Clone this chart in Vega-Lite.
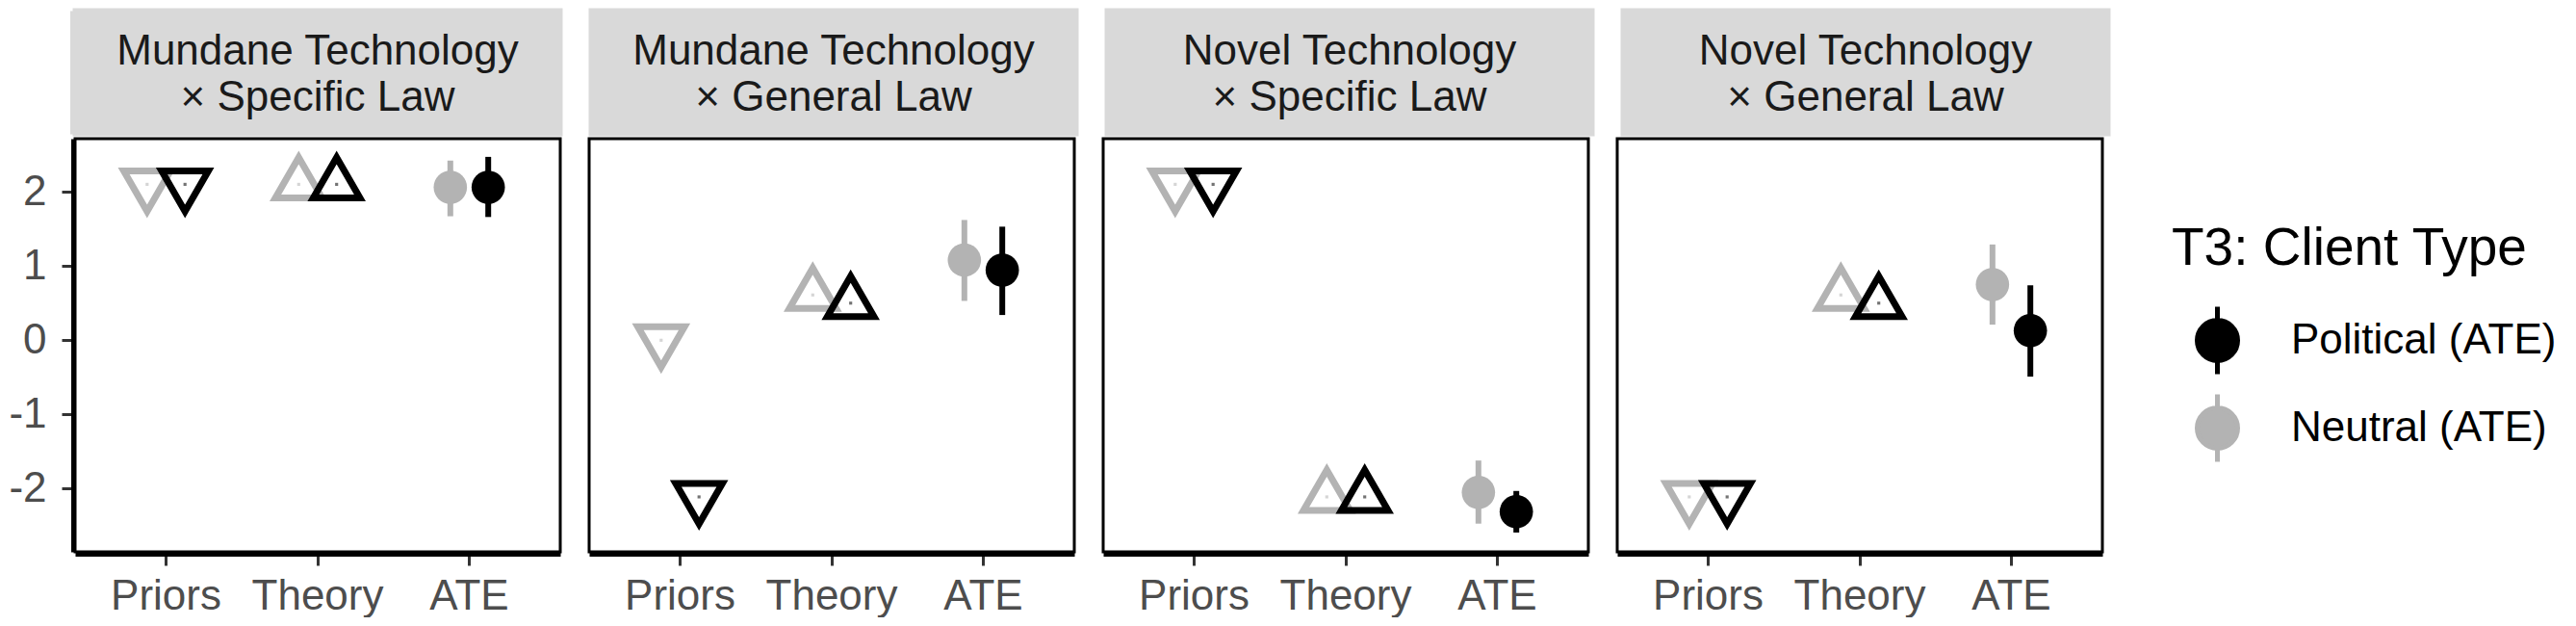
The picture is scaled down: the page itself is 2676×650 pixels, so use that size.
{
  "$schema": "https://vega.github.io/schema/vega-lite/v6.json",
  "padding": {"left": 0, "top": 8, "right": 0, "bottom": 0},
  "background": "white",
  "config": {
    "font": "Liberation Sans",
    "view": {"stroke": null},
    "axisY": {"labelPadding": 16, "tickSize": 12, "tickWidth": 3, "tickColor": "#333333", "labelFontSize": 44, "labelColor": "#4D4D4D"},
    "axisX": {"labelPadding": 10, "tickSize": 12, "tickWidth": 3, "tickColor": "#333333", "labelFontSize": 44, "labelColor": "#4D4D4D"}
  },
  "datasets": {
    "strips": [
      {"panel": "MS", "line": 1, "text": "Mundane Technology"},
      {"panel": "MS", "line": 2, "text": "× Specific Law"},
      {"panel": "MG", "line": 1, "text": "Mundane Technology"},
      {"panel": "MG", "line": 2, "text": "× General Law"},
      {"panel": "NS", "line": 1, "text": "Novel Technology"},
      {"panel": "NS", "line": 2, "text": "× Specific Law"},
      {"panel": "NG", "line": 1, "text": "Novel Technology"},
      {"panel": "NG", "line": 2, "text": "× General Law"}
    ],
    "est": [
      {"panel": "MS", "measure": "Priors", "group": "Neutral (ATE)", "est": 2.10},
      {"panel": "MS", "measure": "Priors", "group": "Political (ATE)", "est": 2.10},
      {"panel": "MS", "measure": "Theory", "group": "Neutral (ATE)", "est": 2.10},
      {"panel": "MS", "measure": "Theory", "group": "Political (ATE)", "est": 2.10},
      {"panel": "MS", "measure": "ATE", "group": "Neutral (ATE)", "est": 2.06, "lo": 1.67, "hi": 2.42},
      {"panel": "MS", "measure": "ATE", "group": "Political (ATE)", "est": 2.06, "lo": 1.66, "hi": 2.47},
      {"panel": "MG", "measure": "Priors", "group": "Neutral (ATE)", "est": 0.0},
      {"panel": "MG", "measure": "Priors", "group": "Political (ATE)", "est": -2.11},
      {"panel": "MG", "measure": "Theory", "group": "Neutral (ATE)", "est": 0.61},
      {"panel": "MG", "measure": "Theory", "group": "Political (ATE)", "est": 0.50},
      {"panel": "MG", "measure": "ATE", "group": "Neutral (ATE)", "est": 1.08, "lo": 0.53, "hi": 1.62},
      {"panel": "MG", "measure": "ATE", "group": "Political (ATE)", "est": 0.945, "lo": 0.34, "hi": 1.53},
      {"panel": "NS", "measure": "Priors", "group": "Neutral (ATE)", "est": 2.10},
      {"panel": "NS", "measure": "Priors", "group": "Political (ATE)", "est": 2.10},
      {"panel": "NS", "measure": "Theory", "group": "Neutral (ATE)", "est": -2.11},
      {"panel": "NS", "measure": "Theory", "group": "Political (ATE)", "est": -2.11},
      {"panel": "NS", "measure": "ATE", "group": "Neutral (ATE)", "est": -2.05, "lo": -2.47, "hi": -1.62},
      {"panel": "NS", "measure": "ATE", "group": "Political (ATE)", "est": -2.31, "lo": -2.59, "hi": -2.03},
      {"panel": "NG", "measure": "Priors", "group": "Neutral (ATE)", "est": -2.11},
      {"panel": "NG", "measure": "Priors", "group": "Political (ATE)", "est": -2.11},
      {"panel": "NG", "measure": "Theory", "group": "Neutral (ATE)", "est": 0.61},
      {"panel": "NG", "measure": "Theory", "group": "Political (ATE)", "est": 0.50},
      {"panel": "NG", "measure": "ATE", "group": "Neutral (ATE)", "est": 0.75, "lo": 0.21, "hi": 1.29},
      {"panel": "NG", "measure": "ATE", "group": "Political (ATE)", "est": 0.13, "lo": -0.49, "hi": 0.74}
    ]
  },
  "spacing": 0,
  "vconcat": [
    {
      "data": {"name": "strips"},
      "spacing": 26,
      "facet": {
        "column": {"field": "panel", "type": "nominal", "sort": ["MS", "MG", "NS", "NG"], "header": {"labels": false, "title": null}}
      },
      "spec": {
        "width": 504,
        "height": 128,
        "view": {"fill": "#D9D9D9", "stroke": "#D9D9D9", "strokeWidth": 5},
        "mark": {"type": "text", "fontSize": 44, "color": "#1A1A1A", "baseline": "middle", "dy": 3},
        "encoding": {
          "y": {
            "field": "line", "type": "ordinal",
            "scale": {"type": "point", "padding": 0.82},
            "axis": {"labels": false, "ticks": false, "domain": true, "domainColor": "#D9D9D9", "domainWidth": 5, "grid": false, "title": null, "minExtent": 75, "maxExtent": 75}
          },
          "text": {"field": "text", "type": "nominal"}
        }
      }
    },
    {
      "data": {"name": "est"},
      "spacing": 26,
      "facet": {
        "column": {"field": "panel", "type": "nominal", "sort": ["MS", "MG", "NS", "NG"], "header": {"labels": false, "title": null}}
      },
      "spec": {
        "width": 504,
        "height": 429,
        "view": {"stroke": "#000000", "strokeWidth": 3},
        "encoding": {
          "x": {
            "field": "measure", "type": "nominal", "sort": ["Priors", "Theory", "ATE"],
            "scale": {"type": "band", "paddingInner": 0.5, "paddingOuter": 0.35},
            "axis": {"title": null, "labelAngle": 0, "labelFontSize": 44, "labelColor": "#4D4D4D", "tickSize": 12, "tickWidth": 3, "tickColor": "#333333", "domainColor": "#000000", "domainWidth": 5, "labelPadding": 10, "bandPosition": 0.5, "grid": false}
          },
          "y": {
            "field": "est", "type": "quantitative",
            "scale": {"domain": [-2.85, 2.715], "nice": false, "zero": false},
            "axis": {"title": null, "values": [-2, -1, 0, 1, 2], "labelExpr": "datum.value < 0 ? '-' + abs(datum.value) : '' + datum.value", "labelFontSize": 44, "labelColor": "#4D4D4D", "tickSize": 12, "tickWidth": 3, "tickColor": "#333333", "domainColor": "#000000", "domainWidth": 5, "labelPadding": 16, "grid": false, "minExtent": 75, "maxExtent": 75}
          },
          "xOffset": {
            "field": "group", "type": "nominal", "sort": ["Neutral (ATE)", "Political (ATE)"],
            "scale": {"paddingInner": 0, "paddingOuter": 0}
          },
          "color": {
            "field": "group", "type": "nominal",
            "scale": {"domain": ["Political (ATE)", "Neutral (ATE)"], "range": ["#000000", "#B3B3B3"]},
            "legend": {
              "orient": "none", "legendX": 2178, "legendY": 221,
              "title": "T3: Client Type", "titleFontSize": 55, "titleColor": "#000000", "titleFontWeight": "normal", "titlePadding": 29, "titleLimit": 0,
              "labelFontSize": 44, "labelColor": "#000000", "labelOffset": 39, "labelLimit": 0,
              "symbolType": "M0,-1L0,1M-0.6,0A0.6,0.6 0 1,0 0.6,0A0.6,0.6 0 1,0 -0.6,0Z",
              "symbolSize": 4900, "symbolStrokeWidth": 5, "symbolOffset": 10, "rowPadding": 0,
              "encode": {"symbols": {"update": {"fill": {"scale": "color", "field": "value"}, "stroke": {"scale": "color", "field": "value"}, "opacity": {"value": 1}}}}
            }
          }
        },
        "layer": [
          {
            "transform": [{"filter": "datum.measure !== 'ATE'"}],
            "mark": {"type": "point", "filled": false, "strokeWidth": 7, "size": 2350, "opacity": 1},
            "encoding": {
              "shape": {"field": "measure", "type": "nominal", "scale": {"domain": ["Priors", "Theory"], "range": ["M0,1.155L1,-0.577L-1,-0.577Z", "M0,-1.155L1,0.577L-1,0.577Z"]}, "legend": null}
            }
          },
          {
            "transform": [{"filter": "datum.measure !== 'ATE'"}],
            "mark": {"type": "point", "filled": true, "shape": "square", "size": 10, "opacity": 0.55},
            "encoding": {}
          },
          {
            "transform": [{"filter": "datum.measure === 'ATE'"}],
            "mark": {"type": "rule", "strokeWidth": 6},
            "encoding": {
              "y": {"field": "lo", "type": "quantitative"},
              "y2": {"field": "hi"}
            }
          },
          {
            "transform": [{"filter": "datum.measure === 'ATE'"}],
            "mark": {"type": "point", "filled": true, "shape": "circle", "size": 1200, "opacity": 1},
            "encoding": {}
          }
        ]
      }
    }
  ]
}
